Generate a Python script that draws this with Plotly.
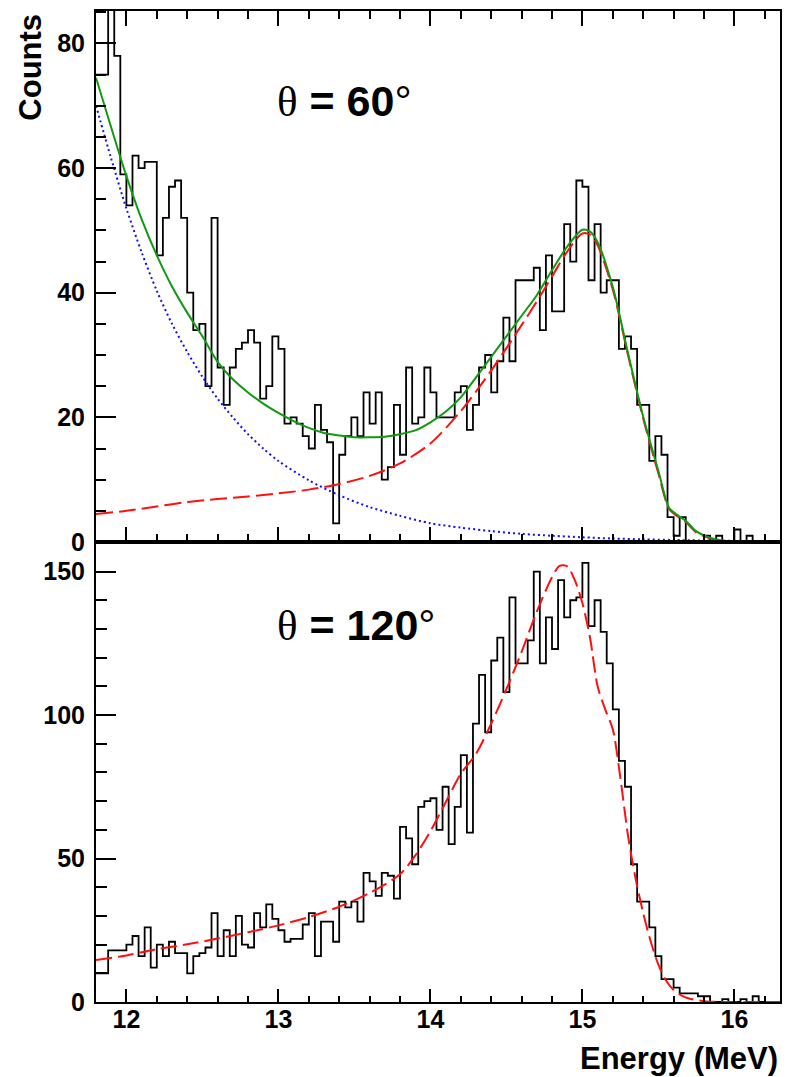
import plotly.graph_objects as go

# Histogram binning (MeV)
BIN_LO = 11.8
BIN_W = 0.04

# Counts per 0.04 MeV bin, theta = 60 deg
counts_60 = [75, 75, 96, 78, 59, 54, 62, 60, 61, 61,
             46, 52, 57, 58, 52, 40, 34, 35, 25, 52,
             28, 22, 28, 31, 32, 34, 32, 23, 25, 33,
             31, 19, 20, 19, 17, 15, 22, 18, 16, 3,
             14, 17, 20, 17, 24, 19, 24, 10, 12, 22,
             14, 28, 19, 20, 28, 24, 20, 20, 20, 24,
             25, 18, 22, 28, 30, 24, 29, 36, 29, 42,
             42, 42, 44, 34, 46, 37, 37, 51, 45, 58,
             57, 42, 51, 40, 42, 42, 31, 33, 31, 22,
             22, 13, 17, 14, 4, 1, 4, 0, 0, 0,
             1, 0, 1, 0, 0, 2, 0, 1, 0, 0, 0, 0]

# Counts per 0.04 MeV bin, theta = 120 deg
counts_120 = [10, 10, 18, 18, 18, 20, 23, 16, 26, 12,
              20, 16, 21, 17, 17, 10, 16, 17, 19, 31,
              16, 25, 16, 30, 20, 19, 31, 26, 34, 29,
              25, 21, 22, 22, 27, 31, 16, 28, 28, 21,
              35, 33, 35, 28, 45, 42, 37, 45, 44, 36,
              61, 57, 48, 68, 70, 71, 60, 75, 55, 68,
              86, 59, 97, 114, 94, 119, 127, 108, 141, 118,
              118, 126, 150, 118, 134, 123, 147, 134, 140, 141,
              153, 131, 140, 129, 118, 102, 84, 75, 48, 35,
              35, 26, 16, 8, 8, 5, 3, 3, 3, 2,
              2, 0, 0, 1, 0, 0, 1, 0, 2, 0, 0, 0]

# Fit components, theta = 60 deg
e_bkg_60 = [11.8, 11.9, 12.0, 12.1, 12.2, 12.3, 12.4, 12.5, 12.6, 12.7, 12.8, 12.9,
            13.0, 13.2, 13.4, 13.6, 13.8, 14.0, 14.2, 14.4, 14.6, 14.8, 15.0,
            15.2, 15.4, 15.6, 15.8, 16.0, 16.3]
bkg_60 = [70, 61.5, 53.5, 46.5, 40.3, 35, 30.5, 26.5, 23, 20, 17.3, 15,
          13, 9.9, 7.5, 5.6, 4.2, 3.0, 2.3, 1.75, 1.3, 1.0, 0.75,
          0.56, 0.42, 0.32, 0.24, 0.18, 0.12]

e_peak_60 = [11.8, 12.0, 12.2, 12.4, 12.6, 12.8, 13.0, 13.2, 13.4, 13.6, 13.8,
             14.0, 14.2, 14.4, 14.6, 14.7, 14.8, 14.9, 15.0, 15.05, 15.1, 15.2,
             15.3, 15.4, 15.5, 15.57, 15.62, 15.68, 15.75, 15.85, 15.95, 16.1, 16.3]
peak_60 = [4.5, 5.0, 5.7, 6.4, 6.9, 7.3, 7.8, 8.4, 9.3, 10.6, 12.6,
           15.8, 21.0, 27.5, 34.8, 38.6, 42.6, 46.6, 49.5, 49.3, 47.6, 40.5,
           30.0, 19.8, 11.0, 5.3, 4.2, 3.2, 1.5, 0.5, 0.1, 0, 0]

e_total_60 = [11.8, 11.9, 12.0, 12.1, 12.2, 12.3, 12.4, 12.5, 12.6, 12.7, 12.8,
              12.9, 13.0, 13.1, 13.2, 13.3, 13.4, 13.5, 13.6, 13.7, 13.8, 13.9,
              14.0, 14.1, 14.2, 14.3, 14.4, 14.5, 14.6, 14.7, 14.8, 14.9, 15.0,
              15.05, 15.1, 15.2, 15.3, 15.4, 15.5, 15.57, 15.62, 15.68, 15.75,
              15.85, 15.95, 16.1, 16.3]
total_60 = [74.5, 66.5, 58.7, 51.8, 46.0, 41.0, 36.8, 33.0, 28.9, 26.1, 24.0,
            22.2, 20.7, 19.4, 18.3, 17.5, 17.1, 16.8, 16.8, 16.9, 17.3, 17.9,
            19.2, 20.9, 23.2, 26.4, 29.7, 33.0, 36.3, 39.6, 43.6, 47.4, 50.1,
            49.8, 48.1, 40.9, 30.3, 20.1, 11.4, 5.5, 4.4, 3.4, 1.7,
            0.6, 0.15, 0.05, 0.03]

# Fit, theta = 120 deg
e_fit_120 = [11.8, 12.0, 12.2, 12.4, 12.6, 12.8, 13.0, 13.2, 13.4, 13.6, 13.8,
             13.9, 14.0, 14.1, 14.2, 14.3, 14.4, 14.5, 14.6, 14.7, 14.8, 14.85,
             14.9, 14.95, 15.0, 15.05, 15.1, 15.15, 15.2, 15.25, 15.3, 15.35,
             15.4, 15.45, 15.5, 15.55, 15.6, 15.65, 15.7, 15.8, 15.9, 16.3]
fit_120 = [14.6, 16.2, 18.4, 20.1, 22.1, 24.3, 26.7, 29.6, 33.2, 38.0, 44.5,
           51.0, 59.5, 69.5, 79.5, 86.5, 97.0, 109.0, 122.0, 136.0, 148.0, 152.0,
           151.8, 147.0, 139.0, 127.0, 110.0, 102.0, 95.0, 78.0, 58.0, 43.0,
           31.0, 21.0, 13.0, 7.5, 4.2, 2.3, 1.2, 0.3, 0.0, 0.0]

X_RANGE = [11.8, 16.3]
Y_RANGE_60 = [0, 85.2]
Y_RANGE_120 = [0, 160.3]


def step_outline(counts):
    edges = [round(BIN_LO + i * BIN_W, 4) for i in range(len(counts) + 1)]
    return edges, list(counts) + [counts[-1]]


SANS = "Liberation Sans"
SERIF = "Liberation Serif"

fig = go.Figure()

hx, hy = step_outline(counts_60)
fig.add_trace(go.Scatter(x=hx, y=hy, mode="lines", xaxis="x", yaxis="y",
                         line=dict(shape="hv", color="black", width=1.8),
                         hoverinfo="skip"))
fig.add_trace(go.Scatter(x=e_bkg_60, y=bkg_60, mode="lines", xaxis="x", yaxis="y",
                         line=dict(shape="spline", smoothing=0.8, color="#1010ff",
                                   width=2, dash="2px,3px")))
fig.add_trace(go.Scatter(x=e_peak_60, y=peak_60, mode="lines", xaxis="x", yaxis="y",
                         line=dict(shape="spline", smoothing=0.8, color="#ff1010",
                                   width=2, dash="17px,6px")))
fig.add_trace(go.Scatter(x=e_total_60, y=total_60, mode="lines", xaxis="x", yaxis="y",
                         line=dict(shape="spline", smoothing=0.8, color="#109a10",
                                   width=2)))

hx2, hy2 = step_outline(counts_120)
fig.add_trace(go.Scatter(x=hx2, y=hy2, mode="lines", xaxis="x2", yaxis="y2",
                         line=dict(shape="hv", color="black", width=1.8),
                         hoverinfo="skip"))
fig.add_trace(go.Scatter(x=e_fit_120, y=fit_120, mode="lines", xaxis="x2", yaxis="y2",
                         line=dict(shape="spline", smoothing=0.8, color="#ff1010",
                                   width=2, dash="16px,6px")))

tickfont = dict(family=SANS, size=25, color="black", weight="bold")
axis_common = dict(showgrid=False, zeroline=False, showline=True, linecolor="black",
                   linewidth=2, ticks="inside", tickcolor="black", tickwidth=1.5,
                   tickfont=tickfont)

split = 0.4642

fig.update_layout(
    width=788, height=1077,
    margin=dict(l=96, r=6, t=11, b=75),
    paper_bgcolor="white", plot_bgcolor="white",
    showlegend=False,
    xaxis=dict(domain=[0, 1], anchor="y", range=X_RANGE, matches="x2",
               tick0=12, dtick=1, ticklen=15, showticklabels=False, mirror="ticks",
               minor=dict(ticks="inside", dtick=0.2, tick0=11.8, ticklen=8,
                          tickcolor="black", tickwidth=1.5, showgrid=False),
               **axis_common),
    yaxis=dict(domain=[split, 1], anchor="x", range=Y_RANGE_60, tick0=0, dtick=20,
               ticklen=20, mirror=True, ticklabelstandoff=4,
               minor=dict(ticks="inside", dtick=5, tick0=0, ticklen=10,
                          tickcolor="black", tickwidth=1.5, showgrid=False),
               **axis_common),
    xaxis2=dict(domain=[0, 1], anchor="y2", range=X_RANGE, tick0=12, dtick=1,
                ticklen=13, mirror=True, ticklabelstandoff=-6,
                minor=dict(ticks="inside", dtick=0.2, tick0=11.8, ticklen=6,
                           tickcolor="black", tickwidth=1.5, showgrid=False),
                **axis_common),
    yaxis2=dict(domain=[0, split], anchor="x2", range=Y_RANGE_120, tick0=0, dtick=50,
                ticklen=20, mirror=True, ticklabelstandoff=4,
                minor=dict(ticks="inside", dtick=10, tick0=0, ticklen=11,
                           tickcolor="black", tickwidth=1.5, showgrid=False),
                **axis_common),
)


def px_x(px):
    return (px - 96) / 686.0


def px_y(py):
    return (1002 - py) / 991.0


theta_fmt = ("<span style='font-family:{serif};font-weight:normal'>θ</span>"
             " = {val}<span style='font-weight:normal'>°</span>")

fig.add_annotation(xref="paper", yref="paper", x=px_x(276), y=px_y(101),
                   xanchor="left", yanchor="middle", showarrow=False,
                   text=theta_fmt.format(serif=SERIF, val="60"),
                   font=dict(family=SANS, size=43, color="black", weight="bold"))
fig.add_annotation(xref="paper", yref="paper", x=px_x(276), y=px_y(625),
                   xanchor="left", yanchor="middle", showarrow=False,
                   text=theta_fmt.format(serif=SERIF, val="120"),
                   font=dict(family=SANS, size=43, color="black", weight="bold"))

fig.add_annotation(xref="paper", yref="paper", x=px_x(30), y=px_y(12),
                   xanchor="center", yanchor="top", showarrow=False, textangle=-90,
                   text="Counts",
                   font=dict(family=SANS, size=31, color="black", weight="bold"))
fig.add_annotation(xref="paper", yref="paper", x=px_x(782), y=px_y(1058),
                   xanchor="right", yanchor="middle", showarrow=False,
                   text="Energy (MeV)",
                   font=dict(family=SANS, size=31, color="black", weight="bold"))

fig.write_html("out.html")
